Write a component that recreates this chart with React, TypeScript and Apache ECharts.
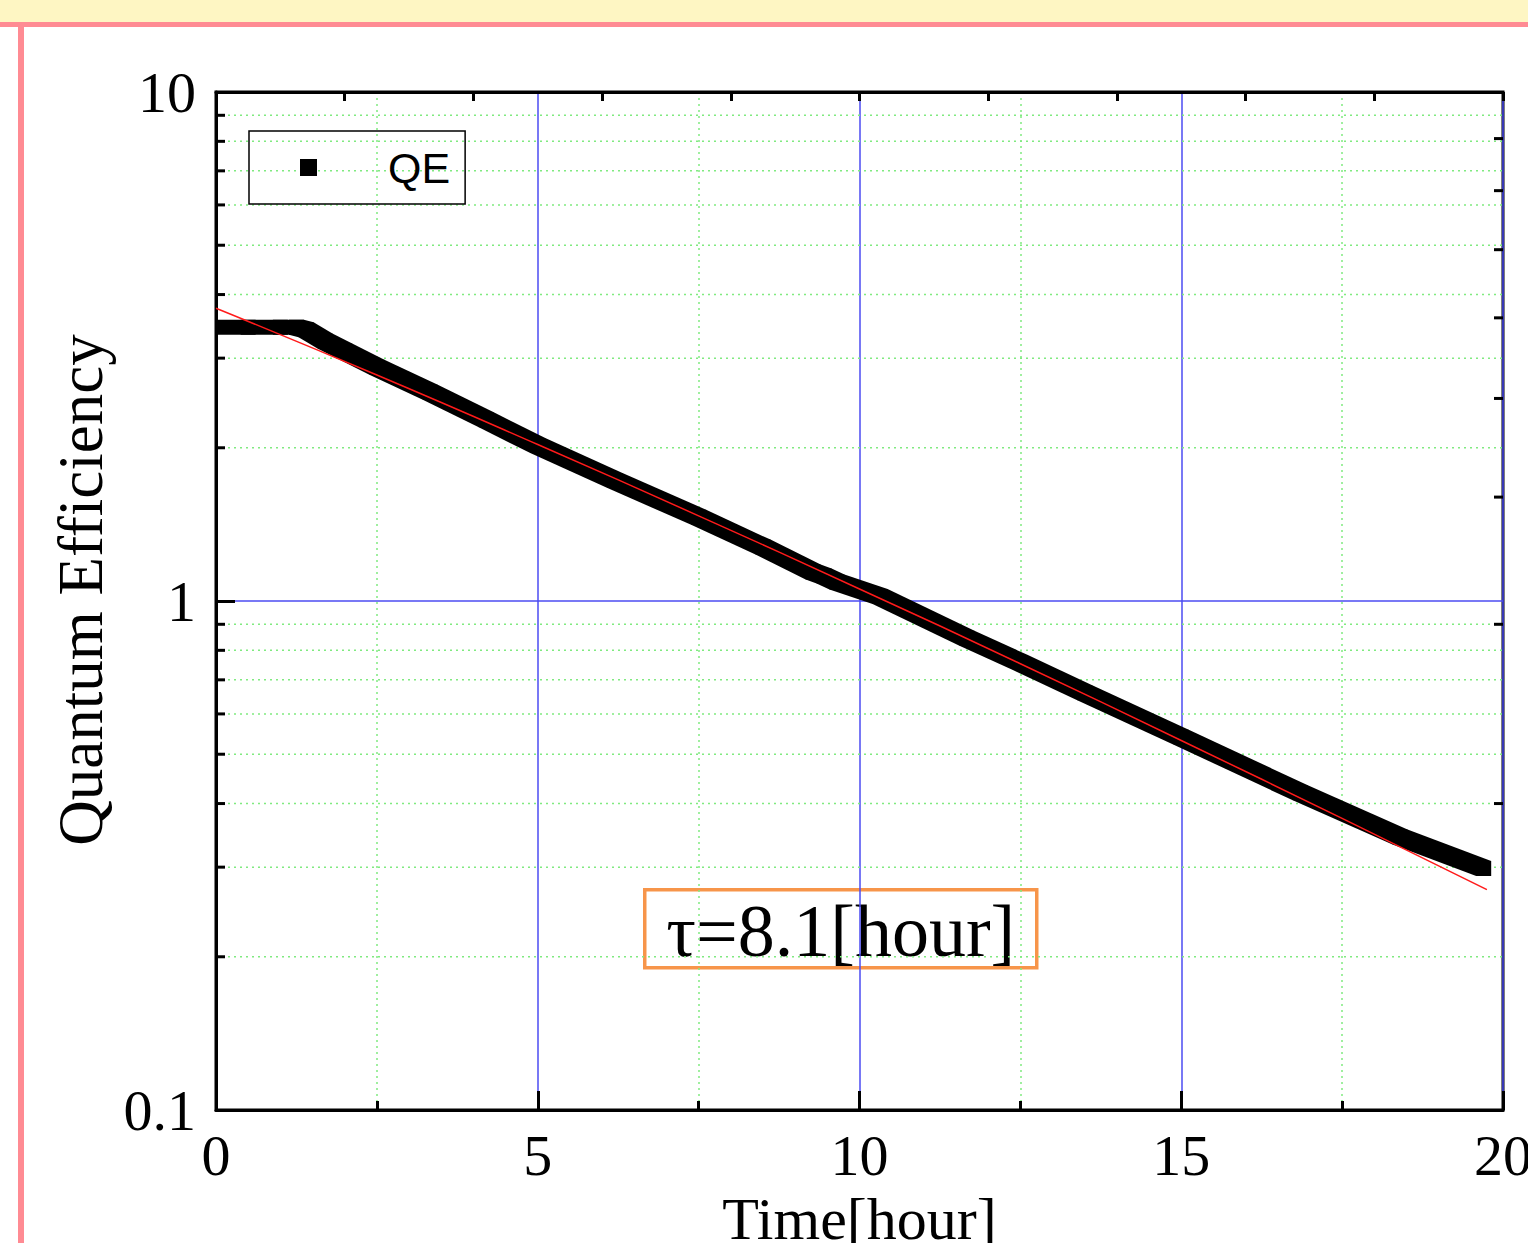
import React, { useEffect, useRef } from 'react';
import * as echarts from 'echarts';

const qeTime = [0, 0.5, 1.0, 1.25, 1.4, 1.7, 2.0, 2.5, 3.33, 4.2, 5.0, 6.2, 7.5, 8.5, 9.28, 9.45, 9.65, 10.32, 11.67, 12.5, 13.5, 15.0, 16.85, 18.4, 19.7];
const qeValue = [3.45, 3.45, 3.45, 3.45, 3.41, 3.24, 3.10, 2.88, 2.57, 2.27, 2.02, 1.725, 1.46, 1.276, 1.14, 1.12, 1.09, 1.02, 0.845, 0.757, 0.66, 0.54, 0.42, 0.344, 0.298];

// Red exponential fit line
const fitTime = [0, 2.5, 5, 7.5, 10, 12.5, 15, 17.5, 19.75];
const fitValue = [3.76, 2.78, 2.03, 1.47, 1.056, 0.753, 0.532, 0.374, 0.271];

// Axis ticks
const xMin = 0;
const xMax = 20;
const yMin = 0.1;
const yMax = 10;
const minorGridValues = [0.2, 0.3, 0.4, 0.5, 0.6, 0.7, 0.8, 0.9, 2, 3, 4, 5, 6, 7, 8, 9];
const rightTickValues = [0.4, 0.9, 1.6, 2.5, 3.6, 4.9, 6.4, 8.1];

const seriesName = 'QE';
const annotation = 'τ=8.1[hour]';

const SERIF = '"Liberation Serif", "Times New Roman", serif';
const SANS = '"Liberation Sans", Arial, sans-serif';

export default function App() {
  const ref = useRef<HTMLDivElement>(null);

  useEffect(() => {
    if (!ref.current) return;
    const chart = echarts.init(ref.current, undefined, { renderer: 'svg' });

    const segments = qeTime.slice(1).map((t, i) => [qeTime[i], qeValue[i], t, qeValue[i + 1]]);
    const fitData = fitTime.map((t, i) => [t, fitValue[i]]);
    const half = 7.5; // half size of a square marker in px

    chart.setOption({
      animation: false,
      backgroundColor: '#ffffff',
      grid: {
        left: 216,
        top: 92,
        right: 25,
        bottom: 133,
        outerBoundsMode: 'none',
        containLabel: false,
        show: true,
        borderColor: '#000',
        borderWidth: 3,
        backgroundColor: 'transparent',
      },
      legend: {
        data: [{ name: seriesName, icon: 'rect' }],
        left: 249,
        top: 131,
        orient: 'vertical',
        selectedMode: false,
        borderColor: '#000',
        borderWidth: 1.5,
        borderRadius: 0,
        padding: [15, 15, 15, 51],
        itemWidth: 17,
        itemHeight: 17,
        itemStyle: { color: '#000' },
        textStyle: {
          fontFamily: SANS,
          fontSize: 43,
          color: '#000',
          padding: [0, 0, 0, 66],
        },
      },
      xAxis: [
        {
          type: 'value',
          min: xMin,
          max: xMax,
          interval: 5,
          position: 'bottom',
          name: 'Time[hour]',
          nameLocation: 'middle',
          nameGap: 78,
          nameTextStyle: { fontFamily: SERIF, fontSize: 60, color: '#000' },
          axisLine: { show: true, onZero: false, lineStyle: { color: '#000', width: 3 } },
          axisTick: { show: true, inside: true, length: 19, lineStyle: { color: '#000', width: 3 } },
          minorTick: { show: true, splitNumber: 2, length: 9, lineStyle: { color: '#000', width: 3 } },
          axisLabel: { show: true, margin: 16, fontFamily: SERIF, fontSize: 58, color: '#000' },
          splitLine: { show: true, lineStyle: { color: '#4B4BF2', width: 1.5 } },
          minorSplitLine: { show: true, lineStyle: { color: '#80EA80', width: 1.5, type: [2, 4] } },
        },
        {
          type: 'value',
          min: xMin,
          max: xMax,
          interval: 2,
          position: 'top',
          axisLine: { show: true, onZero: false, lineStyle: { color: '#000', width: 3 } },
          axisTick: { show: true, inside: true, length: 9, lineStyle: { color: '#000', width: 3 } },
          axisLabel: { show: false },
          splitLine: { show: false },
        },
      ],
      yAxis: [
        {
          type: 'log',
          logBase: 10,
          min: yMin,
          max: yMax,
          position: 'left',
          name: 'Quantum Efficiency',
          nameLocation: 'middle',
          nameGap: 100,
          nameTextStyle: { fontFamily: SERIF, fontSize: 63, color: '#000', padding: [0, 0, 0, 22] },
          axisLine: { show: true, onZero: false, lineStyle: { color: '#000', width: 3 } },
          axisTick: { show: true, inside: true, length: 19, lineStyle: { color: '#000', width: 3 } },
          axisLabel: {
            show: true,
            margin: 20,
            fontFamily: SERIF,
            fontSize: 58,
            color: '#000',
            formatter: (v: number) => String(Number(v.toPrecision(3))),
          },
          splitLine: { show: true, lineStyle: { color: '#4B4BF2', width: 1.5 } },
        },
      ],
      series: [
        {
          type: 'custom',
          name: 'minorGrid',
          coordinateSystem: 'cartesian2d',
          silent: true,
          z: 1,
          data: minorGridValues.map((v) => [xMin, v]),
          renderItem: (params: any, api: any) => {
            const v = api.value(1);
            const l = api.coord([xMin, v]);
            const r = api.coord([xMax, v]);
            return {
              type: 'group',
              children: [
                {
                  type: 'line',
                  shape: { x1: l[0], y1: l[1], x2: r[0], y2: r[1] },
                  style: { stroke: '#80EA80', lineWidth: 1.5, lineDash: [2, 4] },
                },
                {
                  type: 'line',
                  shape: { x1: l[0], y1: l[1], x2: l[0] + 9, y2: l[1] },
                  style: { stroke: '#000', lineWidth: 3 },
                },
              ],
            };
          },
        },
        {
          type: 'custom',
          name: seriesName,
          coordinateSystem: 'cartesian2d',
          clip: true,
          z: 3,
          itemStyle: { color: '#000' },
          encode: { x: [0, 2], y: [1, 3] },
          data: segments,
          renderItem: (params: any, api: any) => {
            const p = api.coord([api.value(0), api.value(1)]);
            const q = api.coord([api.value(2), api.value(3)]);
            const h = half;
            const pts =
              q[1] >= p[1]
                ? [
                    [p[0] - h, p[1] - h],
                    [p[0] + h, p[1] - h],
                    [q[0] + h, q[1] - h],
                    [q[0] + h, q[1] + h],
                    [q[0] - h, q[1] + h],
                    [p[0] - h, p[1] + h],
                  ]
                : [
                    [p[0] - h, p[1] + h],
                    [p[0] - h, p[1] - h],
                    [q[0] - h, q[1] - h],
                    [q[0] + h, q[1] - h],
                    [q[0] + h, q[1] + h],
                    [p[0] + h, p[1] + h],
                  ];
            return { type: 'polygon', shape: { points: pts }, style: { fill: '#000' } };
          },
        },
        {
          type: 'line',
          name: 'fit',
          data: fitData,
          z: 4,
          symbol: 'none',
          smooth: true,
          clip: true,
          lineStyle: { color: '#FF1A1A', width: 1.5 },
        },
        {
          type: 'custom',
          name: 'rightTicks',
          coordinateSystem: 'cartesian2d',
          silent: true,
          z: 5,
          data: rightTickValues.map((v) => [xMax, v]),
          renderItem: (params: any, api: any) => {
            const v = api.value(1);
            const r = api.coord([xMax, v]);
            return {
              type: 'line',
              shape: { x1: r[0] - 9, y1: r[1], x2: r[0], y2: r[1] },
              style: { stroke: '#000', lineWidth: 3 },
            };
          },
        },
      ],
      graphic: [
        { type: 'rect', left: 0, top: 0, shape: { width: 1528, height: 22 }, style: { fill: '#FEF6C3' }, z: 0 },
        { type: 'rect', left: 0, top: 22, shape: { width: 1528, height: 5 }, style: { fill: '#FF8B93' }, z: 0 },
        { type: 'rect', left: 18, top: 27, shape: { width: 6, height: 1216 }, style: { fill: '#FF8B93' }, z: 0 },
        {
          type: 'group',
          left: 643,
          top: 888,
          z: 100,
          children: [
            {
              type: 'rect',
              shape: { x: 0, y: 0, width: 392, height: 78 },
              style: { fill: '#fff', stroke: '#F7954A', lineWidth: 3.5 },
            },
            {
              type: 'text',
              x: 196,
              y: 41,
              style: {
                text: annotation,
                fontFamily: SERIF,
                fontSize: 74,
                fill: '#000',
                align: 'center',
                verticalAlign: 'middle',
              },
            },
          ],
        },
      ],
    });

    return () => chart.dispose();
  }, []);

  return (
    <div
      ref={ref}
      style={{ position: 'fixed', left: 0, top: 0, width: 1528, height: 1243, background: '#fff' }}
    />
  );
}
